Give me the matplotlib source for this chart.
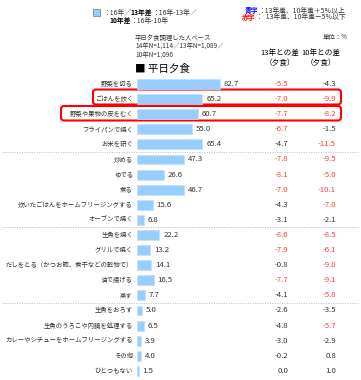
import matplotlib
matplotlib.use("Agg")
import matplotlib.pyplot as plt
import matplotlib.transforms as mtransforms
from matplotlib.patches import FancyBboxPatch, Rectangle

plt.rcParams['font.family'] = ['Noto Sans CJK JP', 'DejaVu Sans']

categories = [
    "野菜を切る", "ごはんを炊く", "野菜や果物の皮をむく", "フライパンで焼く", "お米を研ぐ",
    "炒める", "ゆでる", "煮る", "炊いたごはんをホームフリージングする", "オーブンで焼く",
    "生魚を焼く", "グリルで焼く", "だしをとる（かつお節、煮干などの乾物で）", "油で揚げる", "蒸す",
    "生魚をおろす", "生魚のうろこや内臓を処理する", "カレーやシチューをホームフリージングする",
    "その他", "ひとつもない",
]
values_16 = [82.7, 65.2, 60.7, 55.0, 65.4,
             47.3, 26.6, 46.7, 15.6, 6.8,
             22.2, 13.2, 14.1, 16.5, 7.7,
             5.0, 6.5, 3.9, 4.0, 1.5]
diff_13 = [-5.5, -7.0, -7.7, -6.7, -4.7,
           -7.8, -8.1, -7.0, -4.3, -3.1,
           -8.6, -7.9, -0.8, -7.7, -4.1,
           -2.6, -4.8, -3.0, -0.2, 0.0]
diff_10 = [-4.3, -9.9, -8.2, -1.5, -11.5,
           -9.5, -5.0, -10.1, -7.0, -2.1,
           -8.5, -6.1, -9.0, -9.1, -5.8,
           -3.5, -5.7, -2.9, 0.8, 1.0]
group_breaks = [4.5, 9.5, 14.5]

W, H = 361, 380
fig = plt.figure(figsize=(W / 100, H / 100), dpi=100)
fig.patch.set_facecolor("white")

ov = fig.add_axes([0, 0, 1, 1])
ov.set_xlim(0, W)
ov.set_ylim(H, 0)
ov.axis("off")

n = len(categories)
row0, step = 84.0, 15.1
top_px = row0 - step / 2
bot_px = row0 + (n - 0.5) * step
left_px, width_px = 137, 200
ax = fig.add_axes([left_px / W, 1 - bot_px / H, width_px / W, (bot_px - top_px) / H])
ax.set_xlim(0, width_px)
ax.set_ylim(n - 0.5, -0.5)
ax.axis("off")

ys = list(range(n))
ax.barh(ys, values_16, height=0.66, color="#99CCFF", edgecolor="#BFE0FF", linewidth=0.5)

tr = mtransforms.blended_transform_factory(ov.transData, ax.transData)
dark = "#333333"
red = "#FF3B3B"
blue = "#0000FF"

def col(v):
    if v <= -5:
        return red
    if v >= 5:
        return blue
    return dark

fs = 5.6
for i, (c, v, d13, d10) in enumerate(zip(categories, values_16, diff_13, diff_10)):
    ov.text(133, i, c, ha="right", va="center", fontsize=4.6, color=dark, transform=tr)
    ax.text(v + 4, i, f"{v:.1f}", ha="left", va="center", fontsize=fs, color=dark)
    ov.text(288, i, f"{d13:.1f}", ha="right", va="center", fontsize=fs, color=col(d13), transform=tr)
    ov.text(336, i, f"{d10:.1f}", ha="right", va="center", fontsize=fs, color=col(d10), transform=tr)

for b in group_breaks:
    line = plt.Line2D([2, W - 2], [b, b], transform=tr, color="#BBBBBB",
                      linestyle=(0, (1, 1.5)), linewidth=0.7)
    ov.add_line(line)

boxes = [(93, 89.5, 248, 15.0), (61, 106.0, 280, 14.5)]
for (x, y, w, h) in boxes:
    ov.add_patch(FancyBboxPatch((x, y), w, h, boxstyle="round,pad=0,rounding_size=3",
                                fill=False, edgecolor="#FF0000", linewidth=1.5))

renderer = fig.canvas.get_renderer()

def chain(x, y, pieces, size):
    for txt, color, weight in pieces:
        t = ov.text(x, y, txt, fontsize=size, va="center", ha="left", color=color, fontweight=weight)
        bb = t.get_window_extent(renderer=renderer)
        x += bb.width * W / fig.bbox.width

ov.add_patch(Rectangle((93, 9), 6.5, 6.5, facecolor="#99CCFF", edgecolor="#888888", linewidth=0.6))
lf = 4.9
chain(103, 12.8, [("：16年／", dark, "normal"), ("13年差", "black", "bold"),
                  ("：16年-13年／", dark, "normal")], lf)
chain(109, 20.5, [("10年差", "black", "bold"), ("：16年-10年", dark, "normal")], lf)

chain(245, 10.5, [("青字", blue, "bold"), ("：13年差、10年差＋5％以上", dark, "normal")], lf)
chain(242, 17.5, [("赤字", "#FF0000", "bold"), ("：  13年差、10年差－5％以下", dark, "normal")], lf)

ov.text(135, 37.5, "平日夕食調理した人ベース", fontsize=4.6, va="center", ha="left", color=dark)
ov.text(135, 46, "14年N=1,114／13年N=1,089／", fontsize=4.6, va="center", ha="left", color=dark)
ov.text(135, 54.5, "10年N=1,096", fontsize=4.6, va="center", ha="left", color=dark)
ov.text(135, 68.5, "■ 平日夕食", fontsize=7.6, va="center", ha="left", color="black")

ov.text(348, 37.5, "単位：%", fontsize=4.6, va="center", ha="right", color=dark)
ov.text(280, 52.5, "13年との差", fontsize=5.5, va="center", ha="center", color="black")
ov.text(280, 63, "（夕食）", fontsize=5.5, va="center", ha="center", color="black")
ov.text(321, 52.5, "10年との差", fontsize=5.5, va="center", ha="center", color="black")
ov.text(321, 63, "（夕食）", fontsize=5.5, va="center", ha="center", color="black")

fig.savefig("out.png", dpi=100, facecolor="white")
